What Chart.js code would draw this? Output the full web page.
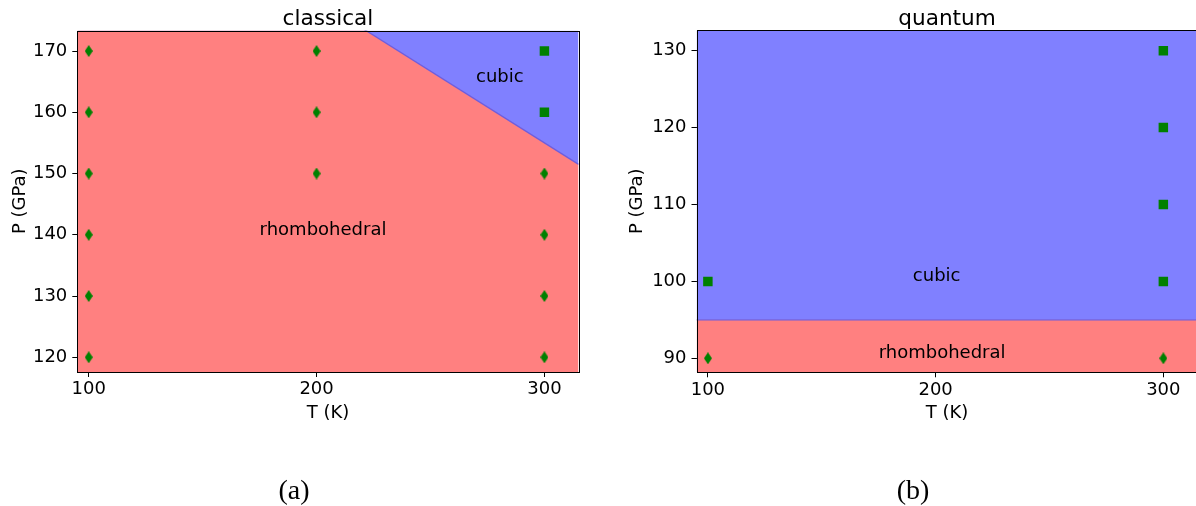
<!DOCTYPE html>
<html>
<head>
<meta charset="utf-8">
<script src="https://cdn.jsdelivr.net/npm/chart.js@4/dist/chart.umd.min.js"></script>
<style>
  html, body { margin: 0; padding: 0; background: #fff; overflow: hidden; width: 1196px; height: 506px; position: relative; }
  .panel { position: absolute; left: 0; top: 0; height: 506px; }
  .panel canvas { display: block; }
  .cap { position: absolute; top: 472px; width: 80px; text-align: center; font-family: "Liberation Serif", "DejaVu Serif", serif; font-size: 28px; line-height: 36px; color: #000; }
</style>
</head>
<body>
<div class="panel" style="width:1196px"><canvas id="classical" width="1196" height="506" style="width:1196px;height:506px"></canvas></div>
<div class="panel" style="width:1200px"><canvas id="quantum" width="1200" height="506" style="width:1200px;height:506px"></canvas></div>
<div class="cap" style="left:254px">(a)</div>
<div class="cap" style="left:873px">(b)</div>
<script>
// ---- shared axis values ----
const tTicks = [100, 200, 300];
const tRange = [95, 315];

// ---- classical phase diagram ----
const classicalPRange = [117.6, 173.35];
const classicalPTicks = [120, 130, 140, 150, 160, 170];
// phase boundary (rhombohedral below, cubic above)
const classicalBoundaryT = [95, 315];
const classicalBoundaryP = [203.0, 151.5];
// simulated state points
const classicalRhomboT = [100, 100, 100, 100, 100, 100, 200, 200, 200, 300, 300, 300, 300];
const classicalRhomboP = [120, 130, 140, 150, 160, 170, 150, 160, 170, 120, 130, 140, 150];
const classicalCubicT = [300, 300];
const classicalCubicP = [160, 170];
// phase names and their anchor (T, P)
const classicalLabelText = ['rhombohedral', 'cubic'];
const classicalLabelT = [175, 270];
const classicalLabelP = [140, 165];

// ---- quantum phase diagram ----
const quantumPRange = [88.18, 132.65];
const quantumPTicks = [90, 100, 110, 120, 130];
const quantumBoundaryT = [95, 315];
const quantumBoundaryP = [95, 95];
const quantumRhomboT = [100, 300];
const quantumRhomboP = [90, 90];
const quantumCubicT = [100, 300, 300, 300, 300];
const quantumCubicP = [100, 100, 110, 120, 130];
const quantumLabelText = ['cubic', 'rhombohedral'];
const quantumLabelT = [190, 175];
const quantumLabelP = [100, 90];

const RED = '#ff8080';
const BLUE = '#8080ff';
const EDGE = '#6f5ddc';
const GREEN = '#008000';
const FONT = '"DejaVu Sans", sans-serif';

// thin diamond marker
const diamond = document.createElement('canvas');
diamond.width = 8; diamond.height = 12;
(function () {
  const c = diamond.getContext('2d');
  c.fillStyle = GREEN;
  c.beginPath();
  c.moveTo(4, 0); c.lineTo(8, 6); c.lineTo(4, 12); c.lineTo(0, 6);
  c.closePath(); c.fill();
})();

const zip = (xs, ys) => xs.map((x, i) => ({ x: x, y: ys[i] }));

// titles, axis titles, phase names and the frame
const panelDecor = {
  id: 'panelDecor',
  afterDatasetsDraw(chart, args, opts) {
    const ctx = chart.ctx, a = chart.chartArea;
    const xs = chart.scales.x, ys = chart.scales.y;
    ctx.save();
    ctx.fillStyle = '#000';
    // phase names
    ctx.font = '18px ' + FONT;
    ctx.textAlign = 'left';
    ctx.textBaseline = 'alphabetic';
    opts.labelText.forEach((s, i) => {
      ctx.fillText(s, xs.getPixelForValue(opts.labelT[i]), ys.getPixelForValue(opts.labelP[i]));
    });
    // frame
    ctx.strokeStyle = '#000';
    ctx.lineWidth = 1;
    ctx.strokeRect(Math.round(a.left) + 0.5, Math.round(a.top) + 0.5,
      Math.round(a.right) - Math.round(a.left), Math.round(a.bottom) - Math.round(a.top));
    // title
    const cx = (a.left + a.right) / 2;
    ctx.textAlign = 'center';
    ctx.font = '21.6px ' + FONT;
    ctx.fillText(opts.title, cx, 24.5);
    // x-axis title
    ctx.font = '18px ' + FONT;
    ctx.fillText('T (K)', cx, 417.5);
    // y-axis title
    ctx.translate(opts.yTitleX, (a.top + a.bottom) / 2);
    ctx.rotate(-Math.PI / 2);
    ctx.fillText('P (GPa)', 0, 0);
    ctx.restore();
  }
};

function makePanel(id, cfg) {
  const fixedTicks = vals => scale => { scale.ticks = vals.map(v => ({ value: v })); };
  return new Chart(document.getElementById(id), {
    type: 'scatter',
    data: {
      datasets: [
        { // state points in the rhombohedral phase
          data: zip(cfg.rhT, cfg.rhP), pointStyle: diamond, order: 0,
          backgroundColor: GREEN, borderWidth: 0
        },
        { // state points in the cubic phase
          data: zip(cfg.cuT, cfg.cuP), pointStyle: 'rect', pointRadius: 6.7, order: 0,
          backgroundColor: GREEN, borderColor: GREEN, borderWidth: 0
        },
        { // cubic region above the boundary
          data: zip(cfg.bT, cfg.bP), showLine: true, pointRadius: 0, order: 1,
          fill: 'end', backgroundColor: BLUE, borderColor: EDGE, borderWidth: 1.3
        },
        { // rhombohedral region below the boundary
          data: zip(cfg.bT, cfg.bP), showLine: true, pointRadius: 0, order: 2,
          fill: 'start', backgroundColor: RED, borderWidth: 0
        }
      ]
    },
    options: {
      responsive: false,
      animation: false,
      events: [],
      layout: { padding: cfg.padding, autoPadding: false },
      plugins: {
        legend: { display: false },
        tooltip: { enabled: false },
        panelDecor: { title: cfg.title, labelText: cfg.lText, labelT: cfg.lT, labelP: cfg.lP, yTitleX: cfg.yTitleX }
      },
      scales: {
        x: {
          type: 'linear', min: tRange[0], max: tRange[1],
          afterBuildTicks: fixedTicks(tTicks),
          afterFit: s => { s.height = cfg.xAxisHeight; s.paddingLeft = 0; s.paddingRight = 0; },
          grid: { display: true, drawOnChartArea: false, drawTicks: true, tickLength: 5, tickColor: '#000', tickWidth: 1 },
          border: { display: false },
          ticks: { color: '#000', font: { family: FONT, size: 18 }, padding: 2, maxRotation: 0, autoSkip: false }
        },
        y: {
          type: 'linear', min: cfg.pRange[0], max: cfg.pRange[1],
          afterBuildTicks: fixedTicks(cfg.pTicks),
          afterFit: s => { s.width = cfg.yAxisWidth; s.paddingTop = 0; s.paddingBottom = 0; },
          grid: { display: true, drawOnChartArea: false, drawTicks: true, tickLength: 5, tickColor: '#000', tickWidth: 1 },
          border: { display: false },
          ticks: { color: '#000', font: { family: FONT, size: 18 }, padding: 5, autoSkip: false }
        }
      }
    },
    plugins: [panelDecor]
  });
}

makePanel('classical', {
  title: 'classical',
  rhT: classicalRhomboT, rhP: classicalRhomboP,
  cuT: classicalCubicT, cuP: classicalCubicP,
  bT: classicalBoundaryT, bP: classicalBoundaryP,
  pRange: classicalPRange, pTicks: classicalPTicks,
  lText: classicalLabelText, lT: classicalLabelT, lP: classicalLabelP,
  yTitleX: 25,
  yAxisWidth: 77.3, xAxisHeight: 134,
  padding: { left: 0, right: 1196 - 578.6, top: 30.5, bottom: 0 }
});

makePanel('quantum', {
  title: 'quantum',
  rhT: quantumRhomboT, rhP: quantumRhomboP,
  cuT: quantumCubicT, cuP: quantumCubicP,
  bT: quantumBoundaryT, bP: quantumBoundaryP,
  pRange: quantumPRange, pTicks: quantumPTicks,
  lText: quantumLabelText, lT: quantumLabelT, lP: quantumLabelP,
  yTitleX: 642,
  yAxisWidth: 96.5, xAxisHeight: 133.7,
  padding: { left: 600, right: 1200 - 1197.5, top: 30.3, bottom: 0 }
});
</script>
</body>
</html>
